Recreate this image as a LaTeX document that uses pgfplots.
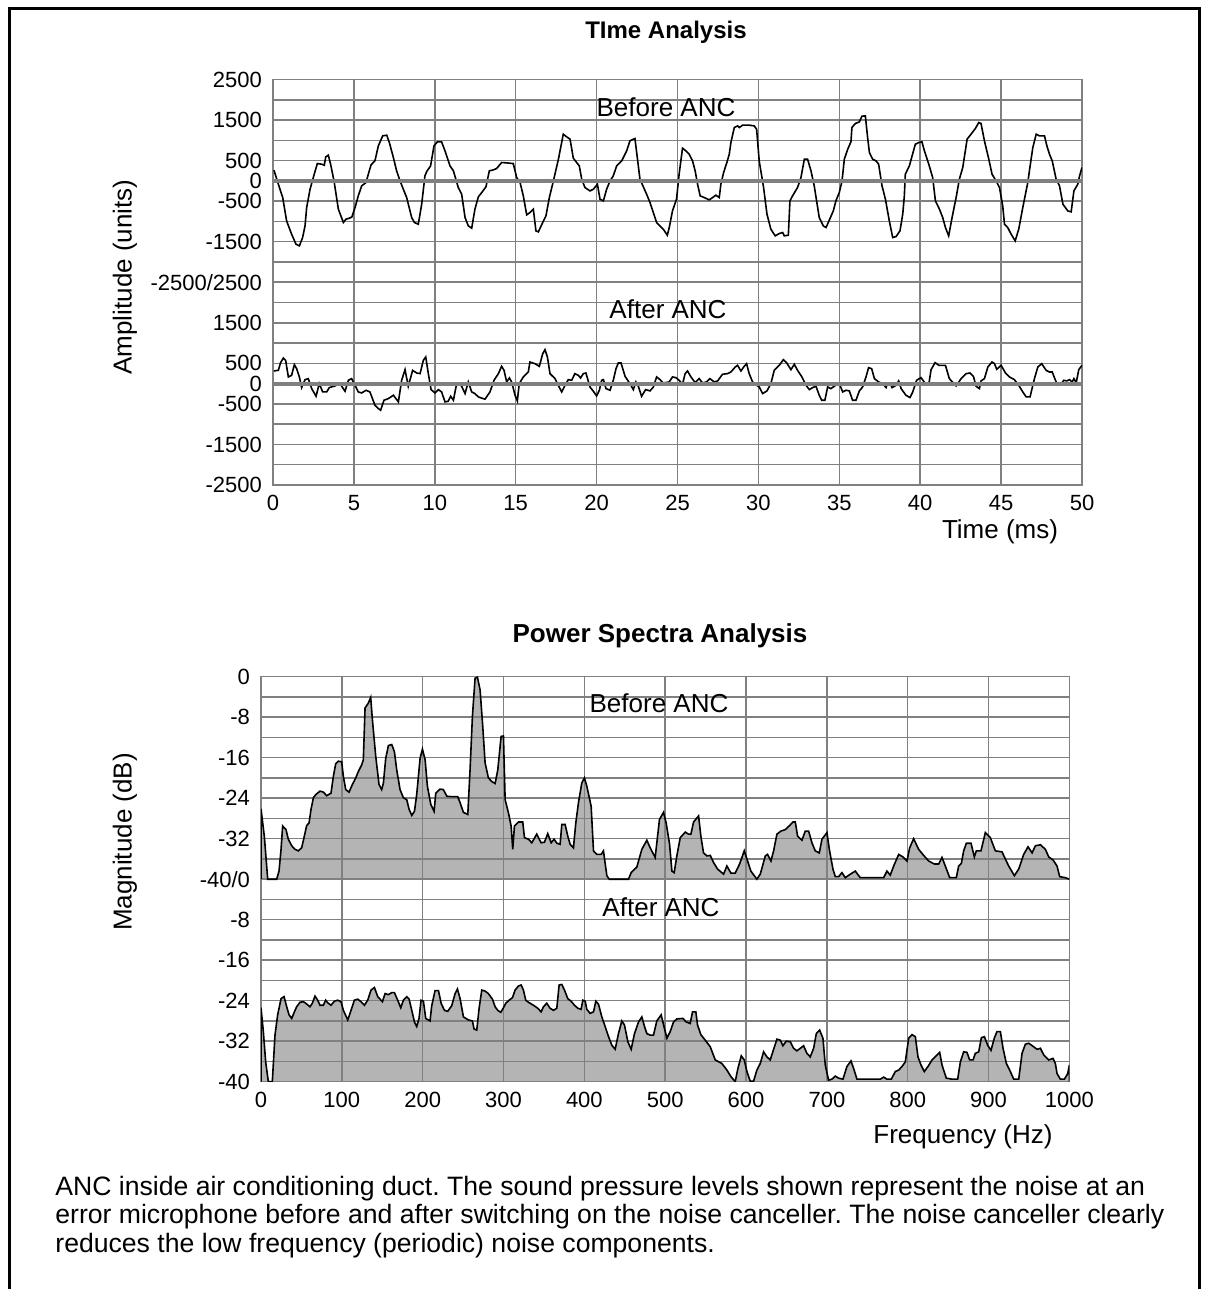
\documentclass[border=0pt]{standalone}
\usepackage{pgfplots}
\pgfplotsset{compat=1.18}
\usepackage{pgfplotstable}
\usepackage{fontspec}
\setmainfont{Liberation Sans}
\frenchspacing
\definecolor{gridgray}{RGB}{128,128,128}
\definecolor{fillgray}{RGB}{180,180,180}

\pgfplotstableread{
t v
0.06 263
0.33 -82
0.60 -411
0.84 -986
1.15 -1315
1.42 -1562
1.63 -1603
1.83 -1397
1.98 -1110
2.08 -658
2.29 -206
2.49 82
2.74 427
3.01 411
3.17 386
3.26 592
3.42 633
3.56 411
3.77 0
4.04 -699
4.35 -1027
4.51 -945
4.72 -921
4.88 -888
5.07 -658
5.27 -370
5.48 -123
5.75 -41
5.89 164
6.06 395
6.30 493
6.51 863
6.78 1110
7.03 1126
7.19 945
7.44 575
7.64 247
7.85 0
8.26 -411
8.57 -904
8.74 -1027
8.98 -1069
9.19 -575
9.39 123
9.50 230
9.74 370
9.95 863
10.16 962
10.42 962
10.63 740
10.94 370
11.15 247
11.45 -164
11.66 -329
11.87 -904
12.07 -1110
12.28 -1167
12.48 -699
12.69 -395
12.90 -288
13.16 -148
13.37 247
13.62 271
13.82 304
14.13 452
14.44 444
14.85 427
15.06 82
15.27 -41
15.47 -370
15.68 -838
15.88 -781
16.09 -699
16.25 -1233
16.40 -1258
16.67 -1027
16.87 -863
17.08 -411
17.33 0
17.64 534
17.94 1151
18.15 1085
18.36 1028
18.56 559
18.93 370
19.08 41
19.28 -164
19.59 -247
19.80 -206
20.05 -82
20.21 -452
20.42 -493
20.62 -206
20.83 0
21.03 123
21.24 370
21.55 493
21.86 740
22.06 986
22.27 1028
22.37 1044
22.68 41
23.09 -329
23.30 -534
23.71 -1027
24.12 -1192
24.37 -1340
24.49 -1151
24.69 -740
24.94 -452
25.10 164
25.31 806
25.52 740
25.72 658
25.93 493
26.09 247
26.24 -82
26.40 -370
26.65 -411
26.96 -469
27.17 -411
27.37 -353
27.58 -411
27.68 -82
27.85 206
28.05 452
28.20 658
28.30 945
28.51 1315
28.71 1356
28.82 1315
29.02 1373
29.43 1373
29.74 1356
29.89 1274
30.05 493
30.32 -164
30.53 -822
30.77 -1192
31.04 -1356
31.29 -1299
31.50 -1274
31.60 -1356
31.85 -1340
31.95 -493
32.11 -370
32.42 -164
32.63 82
32.84 534
33.04 534
33.25 247
33.45 -123
33.76 -904
34.01 -1110
34.18 -1151
34.38 -970
34.63 -740
34.79 -493
35.00 -288
35.17 0
35.31 534
35.52 781
35.72 962
35.78 1315
35.99 1414
36.24 1455
36.40 1595
36.61 1603
36.75 1069
36.86 699
37.06 534
37.27 493
37.43 411
37.64 -123
37.85 -452
38.09 -986
38.30 -1397
38.51 -1373
38.75 -1233
38.92 -822
39.02 -370
39.08 164
39.33 370
39.50 617
39.70 904
39.91 945
40.11 962
40.26 740
40.53 411
40.77 82
40.94 -493
41.19 -699
41.39 -904
41.56 -1151
41.76 -1356
41.97 -904
42.22 -411
42.42 41
42.63 329
42.90 1028
43.14 1151
43.41 1291
43.62 1439
43.76 1414
43.97 986
44.24 534
44.44 164
44.69 0
44.90 -164
45.10 -617
45.21 -1069
45.41 -1151
45.62 -1315
45.87 -1480
46.09 -1192
46.34 -658
46.65 -41
46.75 247
46.96 822
47.17 1151
47.37 1110
47.68 1110
47.83 863
47.99 658
48.16 493
48.40 41
48.61 -123
48.82 -575
49.12 -740
49.33 -764
49.50 -247
49.74 -82
49.85 123
50.00 330
}\tbefore

\pgfplotstableread{
t v
0.06 312
0.33 328
0.47 517
0.64 631
0.78 574
0.95 164
1.15 205
1.32 467
1.46 369
1.63 164
1.77 -98
1.98 98
2.18 123
2.39 -123
2.66 -312
2.86 0
3.07 -205
3.32 -205
3.48 -98
3.83 -57
4.14 0
4.45 -189
4.66 82
4.86 123
5.07 -41
5.27 -205
5.48 -230
5.75 -164
5.99 -205
6.30 -533
6.51 -615
6.65 -656
6.86 -410
7.13 -369
7.44 -287
7.75 -451
7.95 82
8.16 344
8.36 -66
8.63 328
8.88 262
9.09 246
9.29 574
9.44 656
9.60 246
9.77 -148
10.01 -230
10.22 -148
10.42 -205
10.63 -451
10.83 -435
10.98 -312
11.15 -410
11.35 0
11.52 16
11.66 -66
11.87 -246
12.07 41
12.28 -205
12.48 -246
12.69 -328
13.10 -385
13.41 -205
13.66 82
13.93 246
14.13 426
14.28 328
14.44 41
14.61 139
14.75 41
14.96 -287
15.10 -426
15.22 0
15.47 164
15.78 287
15.88 533
16.19 492
16.46 426
16.67 738
16.81 836
16.96 656
17.12 246
17.43 123
17.63 -41
17.84 -205
18.05 -41
18.25 98
18.46 82
18.66 246
18.87 205
19.01 139
19.18 246
19.34 262
19.59 -82
19.80 -189
20.00 -303
20.17 -164
20.31 82
20.42 98
20.58 -123
20.83 -164
21.03 82
21.20 369
21.34 508
21.51 508
21.76 180
22.06 0
22.27 -148
22.43 41
22.58 -66
22.78 -312
23.03 -148
23.30 -180
23.51 -82
23.71 164
23.92 98
24.12 16
24.49 41
24.69 164
24.90 148
25.10 82
25.31 -16
25.47 246
25.62 312
25.83 164
26.09 25
26.34 123
26.55 16
26.79 41
27.00 123
27.27 41
27.48 66
27.78 230
28.09 246
28.30 287
28.57 410
28.71 451
28.92 312
29.12 426
29.27 492
29.43 246
29.64 41
29.89 -41
30.05 -82
30.26 -246
30.53 -180
30.77 0
30.98 328
31.29 451
31.54 590
31.74 517
32.01 344
32.22 476
32.42 328
32.69 164
32.94 -41
33.15 -148
33.35 -98
33.56 -66
33.76 -287
33.91 -410
34.11 -410
34.28 -82
34.48 -123
34.69 -66
34.90 0
35.04 -41
35.21 -205
35.41 -164
35.62 -180
35.82 -410
36.03 -410
36.24 -180
36.44 -82
36.65 164
36.81 394
37.00 369
37.17 123
37.43 41
37.68 0
37.89 -98
37.99 16
38.14 0
38.26 -98
38.51 -41
38.67 66
38.82 -123
39.12 -287
39.37 -344
39.54 -205
39.78 82
40.05 148
40.32 0
40.53 -25
40.67 344
40.92 517
41.15 451
41.56 451
41.80 123
42.22 -57
42.53 123
42.84 246
43.08 262
43.29 180
43.45 -66
43.66 -123
43.76 66
43.97 123
44.18 410
44.44 533
44.59 492
44.73 353
45.00 451
45.27 262
45.52 164
45.82 98
46.09 -41
46.34 -205
46.55 -328
46.79 -328
47.06 123
47.27 410
47.51 492
47.78 328
47.99 287
48.16 287
48.36 82
48.51 -41
48.71 -16
48.87 82
49.06 66
49.23 98
49.39 41
49.50 123
49.64 16
49.80 344
50.00 451
}\tafter

\pgfplotstableread{
f d
0 -40
0 -26.1
4.1 -31.5
8.3 -40
13.2 -40
19.4 -40
22.3 -38.4
24.8 -34.1
26.8 -29.5
30.9 -30.2
33.8 -32.1
38.0 -33.4
42.1 -34.1
46.2 -34.4
50.3 -33.8
53.6 -31.5
56.5 -29.4
59.4 -28.9
61.9 -26.2
64.8 -23.9
67.7 -23.3
73.0 -22.6
77.1 -22.8
81.3 -23.5
86.6 -23.0
89.5 -19.7
92.4 -17.2
95.7 -16.7
99.8 -16.8
101.9 -19.7
104.8 -22.3
108.9 -22.8
113.0 -21.3
117.2 -20.0
120.5 -18.7
124.6 -17.4
126.6 -16.4
128.7 -6.2
132.8 -5.2
135.7 -4.1
137.8 -8.5
141.9 -15.7
146.0 -21.3
149.3 -22.3
151.4 -21.0
154.3 -16.1
157.6 -13.6
161.7 -13.4
165.0 -14.8
167.9 -18.4
172.0 -22.3
176.1 -23.9
180.3 -24.3
183.2 -26.2
186.5 -27.4
189.8 -26.6
192.6 -23.3
196.8 -16.1
199.7 -14.3
203.0 -16.4
205.8 -21.6
210.0 -25.2
214.1 -26.6
216.2 -23.0
221.5 -22.2
225.6 -22.3
229.8 -23.6
236.0 -23.7
243.4 -23.7
246.3 -24.9
250.4 -26.8
255.8 -27.2
258.6 -18.4
261.5 -7.9
264.8 -0.3
267.7 -0.1
271.0 -2.6
274.3 -9.8
277.2 -17.0
281.3 -20.0
285.5 -20.7
289.6 -21.1
292.9 -18.4
297.0 -11.8
299.9 -11.7
302.0 -24.3
306.1 -26.9
309.4 -29.5
311.4 -34.1
313.5 -29.5
318.5 -28.7
323.8 -28.7
325.9 -31.8
330.8 -32.1
335.0 -32.8
341.1 -31.1
346.5 -32.8
350.6 -32.7
354.7 -31.0
358.9 -32.8
362.6 -32.1
365.9 -32.9
370.0 -33.1
372.1 -29.2
376.2 -29.2
379.5 -31.5
382.4 -33.1
386.5 -33.8
389.4 -28.9
392.7 -24.9
396.8 -21.0
400.1 -20.0
403.0 -21.6
408.4 -25.6
411.3 -34.4
415.4 -35.1
420.8 -35.1
423.6 -34.4
427.8 -39.3
430.7 -40
454.6 -40
457.9 -38.7
464.9 -37.6
471.1 -34.1
477.3 -32.3
481.4 -33.8
487.6 -35.7
492.9 -28.2
497.9 -26.8
501.2 -28.9
505.4 -33.1
508.3 -38.4
511.1 -38.7
514.4 -35.4
518.6 -31.8
524.8 -30.7
528.9 -31.1
531.8 -31.1
535.1 -28.7
541.3 -27.5
544.1 -31.5
547.4 -34.8
551.6 -35.4
555.7 -35.3
559.8 -36.7
564.8 -38.0
572.2 -39.0
576.3 -37.4
581.3 -38.8
586.6 -38.8
592.0 -37.0
597.8 -34.4
601.9 -36.4
606.0 -38.4
613.4 -40
617.6 -39.0
623.8 -35.4
626.6 -35.1
630.8 -36.4
634.1 -34.4
638.2 -31.1
643.1 -30.5
648.5 -30.2
653.9 -29.4
658.0 -28.7
660.9 -28.7
663.8 -31.5
669.1 -32.3
673.3 -30.5
677.4 -30.5
681.5 -32.8
685.6 -34.4
690.6 -34.8
693.9 -32.1
700.1 -30.8
703.0 -34.1
707.5 -38.0
710.4 -39.5
714.5 -39.5
718.6 -38.7
722.8 -39.7
729.0 -39.0
735.1 -38.4
741.3 -39.7
770.2 -39.7
774.3 -38.4
778.4 -39.2
782.6 -37.4
788.8 -35.1
794.1 -35.6
799.1 -36.4
802.4 -33.8
807.3 -32.0
813.5 -34.1
819.7 -35.3
825.9 -36.4
832.9 -37.0
838.3 -37.0
842.4 -35.7
846.5 -37.4
851.9 -39.7
860.1 -39.7
863.0 -37.4
866.3 -36.9
869.2 -34.4
872.5 -32.9
878.3 -32.9
882.4 -35.6
884.9 -34.4
890.6 -34.4
896.0 -30.8
902.2 -31.8
908.4 -34.4
916.6 -34.6
924.9 -37.4
931.9 -39.3
937.3 -38.0
943.4 -35.1
948.8 -33.6
953.8 -34.8
957.9 -33.4
964.1 -33.2
970.3 -34.1
974.4 -35.6
979.8 -36.2
984.7 -37.4
988.0 -39.5
995.0 -39.7
1000 -40
}\sbefore

\pgfplotstableread{
f d
0 -40
0 -25.4
2.9 -30.1
5.8 -36.1
9.1 -40
14.0 -40
17.3 -30.8
20.6 -26.8
24.8 -23.6
28.5 -23.2
31.8 -25.2
34.7 -26.8
38.0 -27.5
41.3 -26.2
44.1 -25.2
48.3 -24.3
52.4 -24.2
55.3 -24.5
60.6 -25.2
63.5 -24.5
66.8 -23.1
70.1 -23.9
73.0 -24.9
77.1 -24.9
80.0 -23.9
82.5 -24.4
86.6 -24.9
90.8 -24.1
94.9 -23.9
99.0 -24.2
101.9 -25.9
107.3 -27.8
111.4 -25.9
115.5 -23.9
119.6 -23.7
123.8 -24.2
127.9 -24.9
132.0 -23.9
136.1 -21.9
140.3 -21.4
144.4 -23.2
150.2 -24.2
153.5 -22.6
157.6 -22.8
161.7 -22.4
165.0 -22.4
169.1 -23.9
172.9 -25.4
176.1 -23.9
180.3 -23.2
183.2 -23.7
186.5 -25.9
189.8 -28.2
192.6 -29.1
195.5 -27.5
198.0 -23.9
200.9 -24.1
203.8 -27.5
209.1 -28.0
211.2 -25.0
215.3 -22.0
219.5 -22.0
222.8 -24.5
226.9 -25.9
231.0 -26.1
235.9 -25.0
240.1 -22.6
243.0 -21.7
246.3 -23.6
250.4 -27.2
256.6 -27.8
261.5 -28.0
263.6 -29.6
266.9 -29.8
269.8 -25.5
273.1 -21.9
277.2 -22.1
281.3 -22.6
286.3 -23.7
289.6 -25.2
292.9 -25.9
296.6 -26.3
299.9 -25.4
302.8 -24.5
306.9 -23.9
311.1 -23.4
314.3 -21.9
318.5 -21.1
321.8 -20.9
324.6 -21.9
327.5 -23.9
330.8 -24.3
337.0 -24.9
342.4 -25.5
346.5 -26.2
349.4 -25.2
353.5 -24.5
357.6 -25.5
361.8 -25.9
365.9 -25.5
368.8 -20.9
372.1 -20.8
375.4 -21.9
379.5 -23.6
383.6 -24.1
387.8 -24.9
391.9 -25.5
396.0 -25.7
398.1 -23.9
401.0 -24.1
403.0 -25.7
407.1 -26.5
411.3 -26.2
414.2 -24.1
417.5 -24.7
421.6 -27.2
425.7 -29.1
429.9 -31.1
434.0 -32.8
438.1 -33.6
442.2 -30.5
446.3 -28.0
449.6 -28.8
453.8 -32.1
457.9 -33.6
462.0 -30.5
467.0 -28.2
471.1 -27.2
474.4 -29.1
477.3 -30.5
481.4 -30.8
485.5 -30.8
489.6 -28.0
495.0 -26.8
497.1 -28.2
502.1 -31.4
506.2 -30.1
510.3 -28.2
514.4 -27.6
521.9 -27.5
526.0 -28.2
530.9 -28.5
533.8 -26.2
537.9 -26.2
540.0 -28.8
544.1 -30.7
549.5 -31.8
555.7 -33.1
561.9 -35.7
570.1 -36.4
576.3 -37.7
581.3 -39.0
586.6 -40
589.9 -37.4
594.1 -34.9
597.8 -35.7
601.1 -38.0
605.2 -39.9
609.3 -39.9
613.4 -37.7
617.6 -36.4
621.7 -34.1
625.8 -35.1
629.9 -35.7
634.1 -33.6
638.2 -31.6
642.4 -31.8
645.6 -32.9
649.7 -32.0
654.7 -32.1
658.8 -33.4
662.9 -33.9
667.1 -33.4
671.2 -32.9
675.3 -34.4
679.4 -35.1
683.6 -33.4
686.9 -30.5
691.0 -29.8
695.1 -31.4
698.0 -36.7
702.1 -39.7
706.2 -39.5
710.4 -38.9
714.5 -39.3
719.9 -39.5
724.8 -37.0
729.8 -35.9
733.1 -37.4
737.2 -39.5
766.1 -39.5
770.2 -39.1
774.3 -39.5
779.7 -39.5
784.6 -38.0
788.8 -37.7
792.9 -37.0
797.0 -36.1
801.2 -31.4
805.3 -30.7
809.4 -31.1
812.7 -35.1
816.4 -36.7
820.5 -38.0
825.9 -36.8
830.0 -35.7
835.0 -34.9
839.5 -34.2
842.4 -36.7
847.7 -39.3
854.8 -39.5
861.8 -39.5
865.1 -36.1
869.2 -34.1
873.3 -34.2
876.6 -35.7
880.8 -35.7
883.6 -34.4
887.8 -34.1
891.1 -31.3
894.8 -31.1
898.9 -32.8
903.0 -33.8
907.1 -31.4
910.4 -30.1
914.6 -30.1
917.9 -33.4
922.0 -36.4
926.1 -37.7
931.1 -39.5
937.3 -39.5
941.4 -34.4
945.5 -32.6
949.6 -32.4
955.8 -33.1
959.9 -33.6
964.1 -33.4
968.2 -34.7
974.4 -35.7
979.7 -35.4
982.6 -36.4
984.7 -38.4
988.8 -39.5
993.8 -39.5
997.9 -38.4
1000 -36.7
1000 -40
}\safter

\pgfplotsset{
  common/.style={
    scale only axis,
    grid=major,
    major grid style={gridgray, line width=0.75pt},
    axis line style={gridgray, line width=0.75pt},
    major tick length=0pt,
    tick style={draw=none},
    tick label style={font=\fontsize{11}{13}\selectfont},
    /pgf/number format/assume math mode=true,
    /pgf/number format/1000 sep={},
    yticklabel style={xshift=-2pt},
    xticklabel style={yshift=-1.5pt},
  }
}

\begin{document}
\begin{tikzpicture}
\path[use as bounding box] (0,0) rectangle (606pt,644.5pt);
\draw[line width=1.5pt] (4.75pt,0) -- (4.75pt,640pt) -- (599.75pt,640pt) -- (599.75pt,0);

% ---------- Time analysis ----------
\begin{axis}[common,
  at={(136.5pt,402pt)}, anchor=south west,
  width=404.5pt, height=202.75pt,
  xmin=0, xmax=50, ymin=-2500, ymax=7500,
  xtick={0,5,...,50},
  ytick={-2500,-2000,...,7500},
  yticklabels={-2500,,-1500,,-500,0,500,,1500,,-2500/2500,,-1500,,-500,0,500,,1500,,2500},
]
\addplot[black, line width=0.8pt] table[x=t, y expr=\thisrow{v}+5000] {\tbefore};
\addplot[black, line width=0.8pt] table[x=t, y=v] {\tafter};
\addplot[gridgray, line width=2pt] coordinates {(0,5000) (50,5000)};
\addplot[gridgray, line width=2pt] coordinates {(0,0) (50,0)};
\end{axis}

% ---------- Power spectra ----------
\begin{axis}[common, axis on top,
  at={(130.5pt,103.65pt)}, anchor=south west,
  width=404.2pt, height=202.5pt,
  xmin=0, xmax=1000, ymin=-40, ymax=40,
  xtick={0,100,...,1000},
  ytick={-40,-36,...,40},
  yticklabels={-40,,-32,,-24,,-16,,-8,,-40/0,,-32,,-24,,-16,,-8,,0},
]
\addplot[fill=fillgray, draw=none] table[x=f, y expr=\thisrow{d}+40] {\sbefore};
\addplot[fill=fillgray, draw=none] table[x=f, y=d] {\safter};
\end{axis}
\begin{axis}[scale only axis, hide axis,
  at={(130.5pt,103.65pt)}, anchor=south west,
  width=404.2pt, height=202.5pt,
  xmin=0, xmax=1000, ymin=-40, ymax=40,
]
\addplot[black, line width=0.8pt] table[x=f, y expr=\thisrow{d}+40] {\sbefore};
\addplot[black, line width=0.8pt] table[x=f, y=d] {\safter};
\end{axis}

% ---------- texts ----------
\node[font=\bfseries\fontsize{12}{14}\selectfont] at (333pt,628.5pt) {TIme Analysis};
\node[font=\bfseries\fontsize{13}{15}\selectfont] at (330pt,326.5pt) {Power Spectra Analysis};
\node[font=\fontsize{13}{15}\selectfont] at (333pt,591pt) {Before ANC};
\node[font=\fontsize{13}{15}\selectfont] at (334pt,490pt) {After ANC};
\node[font=\fontsize{13}{15}\selectfont] at (329.5pt,293pt) {Before ANC};
\node[font=\fontsize{13}{15}\selectfont] at (330.5pt,191pt) {After ANC};
\node[font=\fontsize{13}{15}\selectfont, rotate=90] at (62.5pt,506pt) {Amplitude (units)};
\node[font=\fontsize{13}{15}\selectfont] at (500pt,378.5pt) {Time (ms)};
\node[font=\fontsize{13}{15}\selectfont, rotate=90] at (62.5pt,223.5pt) {Magnitude (dB)};
\node[font=\fontsize{13}{15}\selectfont] at (481.5pt,76pt) {Frequency (Hz)};
\node[anchor=west, align=left, inner sep=0pt, font=\fontsize{13.3}{14.2}\selectfont] at (27.5pt,36pt)
 {ANC inside air conditioning duct. The sound pressure levels shown represent the noise at an\\
  error microphone before and after switching on the noise canceller. The noise canceller clearly\\
  reduces the low frequency (periodic) noise components.};
\end{tikzpicture}
\end{document}
